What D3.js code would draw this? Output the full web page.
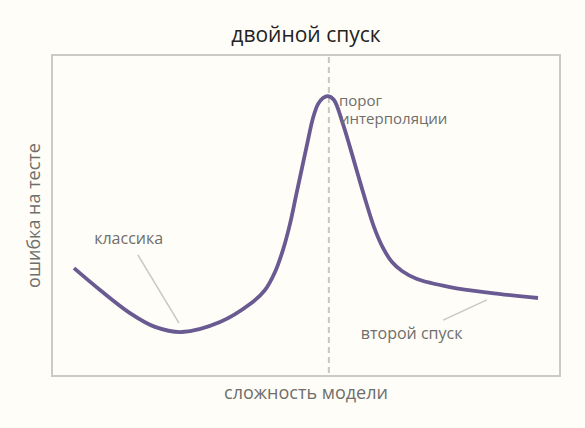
<!DOCTYPE html>
<html lang="ru">
<head>
<meta charset="utf-8">
<title>двойной спуск</title>
<script src="https://d3js.org/d3.v7.min.js"></script>
<style>
  body { margin: 0; background: #fffdf8; }
  svg { display: block; font-family: "Open Sans", sans-serif; }
  .frame { fill: none; stroke: #cccbc3; stroke-width: 2; }
  .threshold { stroke: #c9c8c0; stroke-width: 2; stroke-dasharray: 6 4; }
  .curve { fill: none; stroke: #6a5a92; stroke-width: 3.8; stroke-linejoin: round; stroke-linecap: butt; }
  .leader { stroke: #c9c8c0; stroke-width: 1.5; }
  .note { fill: #6e6e6a; font-size: 16px; }
  .note.small { font-size: 15px; }
  .axis-label { fill: #6e6e6a; font-size: 18px; }
  .title { fill: #222; font-size: 21px; }
</style>
</head>
<body>
<script>
// сложность модели (0..100) и ошибка на тесте (0..1)
var complexity = [4.33, 9.45, 15.35, 20.28, 25.59, 33.07, 38.98, 41.93, 43.90, 45.47, 46.85, 48.03, 49.21, 50.39, 51.38, 52.36, 53.35, 54.33,
                  55.51, 57.09, 58.66, 60.24, 61.81, 63.39, 65.16, 66.93, 68.90, 71.85, 78.35, 86.22, 95.67];
var testError  = [0.336, 0.268, 0.196, 0.153, 0.137, 0.168, 0.224, 0.268, 0.324, 0.393, 0.474, 0.561, 0.648, 0.735, 0.804, 0.847, 0.866, 0.872,
                  0.860, 0.794, 0.713, 0.626, 0.542, 0.464, 0.399, 0.355, 0.327, 0.302, 0.277, 0.259, 0.243];
var interpolationThreshold = 54.5;

var noteLabels = ["классика", "порог", "интерполяции", "второй спуск"];
var noteX = [8.3, 56.5, 56.7, 60.8];
var noteY = [0.43, 0.857, 0.801, 0.134];
var noteSmall = [false, true, true, false];
// leader lines: [x1, y1, x2, y2]
var leaders = [[16.9, 0.377, 25.0, 0.165], [77.0, 0.174, 85.6, 0.237]];

var width = 585, height = 428;
var margin = {top: 55, right: 25, bottom: 52, left: 52};

var svg = d3.select("body").append("svg")
    .attr("width", width)
    .attr("height", height);

var x = d3.scaleLinear()
    .domain([0, 100])
    .range([margin.left, width - margin.right]);
var y = d3.scaleLinear()
    .domain([0, 1])
    .range([height - margin.bottom, margin.top]);

svg.append("rect")
    .attr("class", "frame")
    .attr("x", x(0))
    .attr("y", y(1))
    .attr("width", x(100) - x(0))
    .attr("height", y(0) - y(1));

svg.append("line")
    .attr("class", "threshold")
    .attr("x1", x(interpolationThreshold))
    .attr("x2", x(interpolationThreshold))
    .attr("y1", y(1) + 2)
    .attr("y2", y(0));

svg.selectAll(".leader")
    .data(leaders)
  .enter().append("line")
    .attr("class", "leader")
    .attr("x1", function(d) { return x(d[0]); })
    .attr("y1", function(d) { return y(d[1]); })
    .attr("x2", function(d) { return x(d[2]); })
    .attr("y2", function(d) { return y(d[3]); });

var line = d3.line()
    .x(function(d, i) { return x(complexity[i]); })
    .y(function(d) { return y(d); })
    .curve(d3.curveCatmullRom.alpha(0.5));

svg.append("path")
    .datum(testError)
    .attr("class", "curve")
    .attr("d", line);

svg.selectAll(".note")
    .data(noteLabels)
  .enter().append("text")
    .attr("class", function(d, i) { return noteSmall[i] ? "note small" : "note"; })
    .attr("x", function(d, i) { return x(noteX[i]); })
    .attr("y", function(d, i) { return y(noteY[i]); })
    .attr("dy", "0.35em")
    .text(function(d) { return d; });

svg.append("text")
    .attr("class", "title")
    .attr("x", (x(0) + x(100)) / 2)
    .attr("y", 35)
    .attr("dy", "0.35em")
    .attr("text-anchor", "middle")
    .text("двойной спуск");

svg.append("text")
    .attr("class", "axis-label")
    .attr("x", (x(0) + x(100)) / 2)
    .attr("y", 393)
    .attr("dy", "0.35em")
    .attr("text-anchor", "middle")
    .text("сложность модели");

svg.append("text")
    .attr("class", "axis-label")
    .attr("transform", "translate(34," + (y(0) + y(1)) / 2 + ") rotate(-90)")
    .attr("dy", "0.35em")
    .attr("text-anchor", "middle")
    .text("ошибка на тесте");
</script>
</body>
</html>
